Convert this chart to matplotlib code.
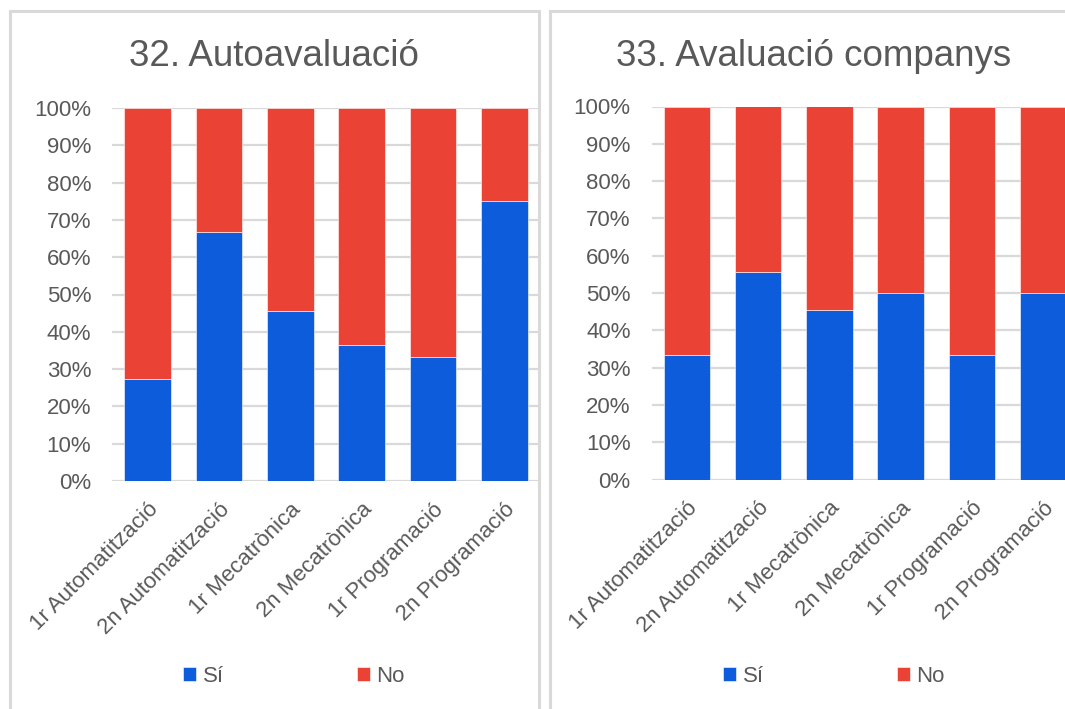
import matplotlib.pyplot as plt
from matplotlib.patches import Rectangle
from matplotlib.ticker import PercentFormatter

plt.rcParams['font.family'] = ['Liberation Sans', 'DejaVu Sans']

grups = ['1r Automatització', '2n Automatització', '1r Mecatrònica',
         '2n Mecatrònica', '1r Programació', '2n Programació']

# percentatge de "Sí" per grup (la resta fins al 100% és "No")
si_auto = [27.3, 66.7, 45.5, 36.4, 33.3, 75.0]
si_companys = [33.3, 55.6, 45.5, 50.0, 33.3, 50.0]
titols = ['32. Autoavaluació', '33. Avaluació companys']

BLAU = '#0d5cdb'
VERMELL = '#ea4335'
GRIS_TEXT = '#595959'
GRIS_LINIA = '#d9d9d9'

W, H = 1065, 709
fig = plt.figure(figsize=(W / 100, H / 100), dpi=100)


def px(x0, y0, x1, y1):
    # caixa en píxels (des de dalt) -> coordenades de figura
    return [x0 / W, 1 - y1 / H, (x1 - x0) / W, (y1 - y0) / H]


panells = [
    # marc del panell, eixos, centre del títol, centre de la llegenda
    dict(marc=(9.5, 11), eixos=(112, 108, 540, 481), titol=274, lleg=294),
    dict(marc=(549.5, 11), eixos=(651.5, 106.5, 1078.5, 479.5), titol=814, lleg=834),
]

for p, titol, si in zip(panells, titols, [si_auto, si_companys]):
    mx, my = p['marc']
    fig.patches.append(Rectangle((mx / W, -0.1), 529 / W, 1.1 - my / H,
                                 transform=fig.transFigure, fill=False,
                                 edgecolor=GRIS_LINIA, linewidth=2.2))

    ax = fig.add_axes(px(*p['eixos']))
    no = [100 - v for v in si]
    x = range(len(grups))
    ax.bar(x, si, width=0.65, color=BLAU, edgecolor='white', linewidth=0.4,
           label='Sí', zorder=3)
    ax.bar(x, no, width=0.65, bottom=si, color=VERMELL, edgecolor='white',
           linewidth=0.4, label='No', zorder=3)

    ax.set_xlim(-0.5, len(grups) - 0.5)
    ax.set_ylim(0, 100)
    ax.set_yticks(range(0, 101, 10))
    ax.yaxis.set_major_formatter(PercentFormatter(decimals=0))
    ax.grid(axis='y', color=GRIS_LINIA, linewidth=1.6, zorder=0)
    for s in ax.spines.values():
        s.set_visible(False)
    ax.tick_params(length=0, labelcolor=GRIS_TEXT)
    ax.tick_params(axis='y', pad=15, labelsize=16)
    ax.tick_params(axis='x', pad=13, labelsize=16)
    ax.set_xticks(list(x))
    ax.set_xticklabels(grups, rotation=45, ha='right', rotation_mode='anchor')

    fig.text(p['titol'] / W, 1 - 66 / H, titol, ha='center', va='baseline',
             fontsize=26.5, color=GRIS_TEXT)

    lg = ax.legend(loc='center', bbox_to_anchor=(p['lleg'] / W, 1 - 676 / H),
                   bbox_transform=fig.transFigure, ncol=2, frameon=False,
                   fontsize=16, handlelength=0.58, handleheight=0.58,
                   handletextpad=0.3, columnspacing=6.0, borderpad=0)
    for t in lg.get_texts():
        t.set_color(GRIS_TEXT)

fig.savefig('out.png', dpi=100, facecolor='white')
